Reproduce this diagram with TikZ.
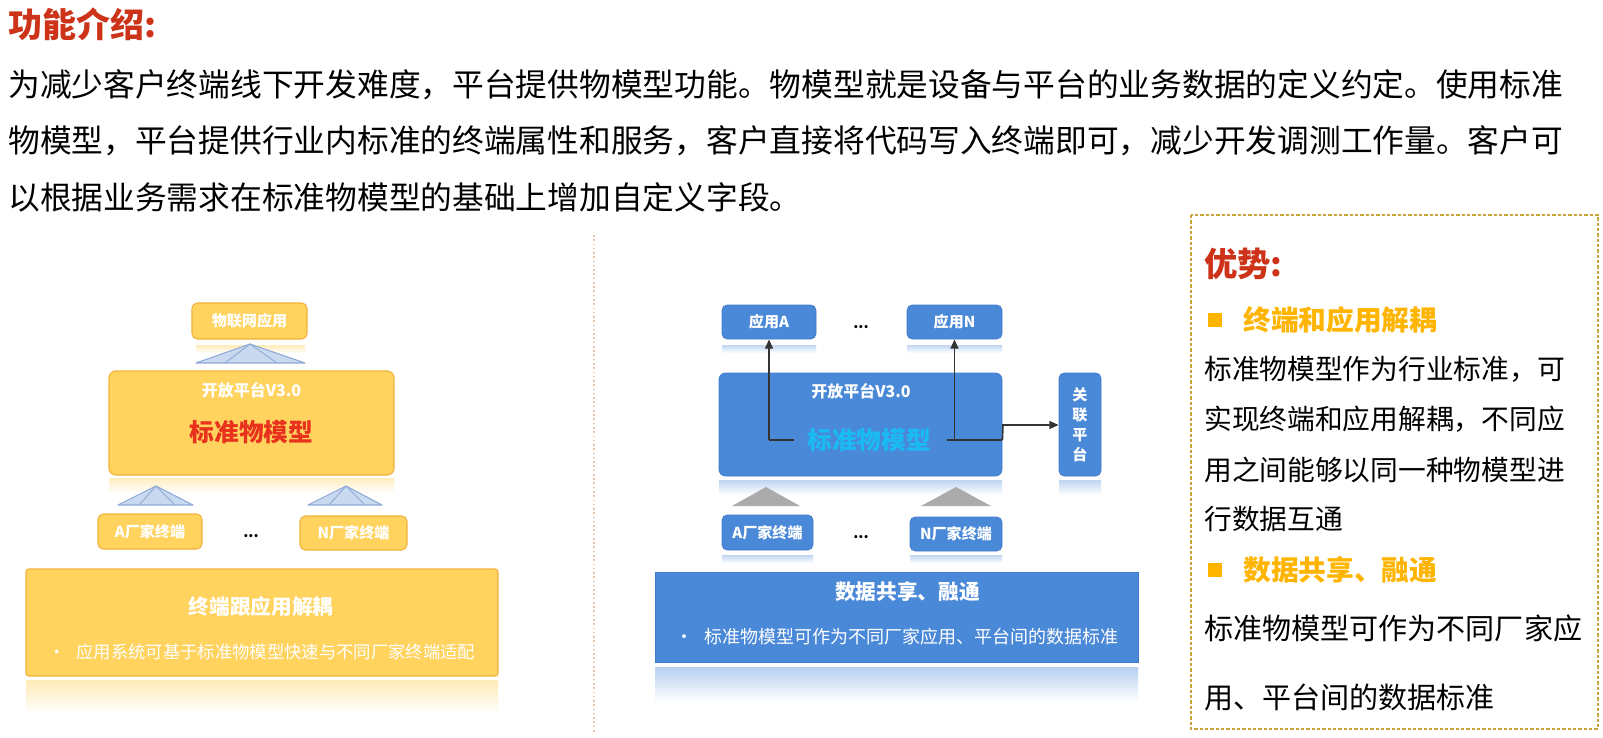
\documentclass[tikz,border=0pt]{standalone}
\usepackage{fontspec}
\setmainfont{Noto Sans CJK SC}
\usetikzlibrary{arrows.meta}
\definecolor{ttlred}{HTML}{CC3319}
\definecolor{yfill}{HTML}{FFD35E}
\definecolor{yline}{HTML}{F2B23C}
\definecolor{bfill}{HTML}{4A88D8}
\definecolor{bline}{HTML}{3F7BCB}
\definecolor{redtxt}{HTML}{E8321E}
\definecolor{cyantxt}{HTML}{1CBAF2}
\definecolor{pyrfill}{HTML}{C9DAF0}
\definecolor{pyrline}{HTML}{8FAAD6}
\definecolor{headyel}{HTML}{FFB400}
\definecolor{panelc}{HTML}{C9A43A}
\definecolor{divc}{HTML}{F2C4A6}
\definecolor{conncol}{HTML}{333333}
\begin{document}
\begin{tikzpicture}[x=0.75pt,y=-0.75pt,
  sz/.style 2 args={minimum width=#1*0.75pt, minimum height=#2*0.75pt},
  ybox/.style={draw=yline, fill=yfill, rounded corners=4pt, line width=0.8pt, inner sep=0pt, text=white, font=\bfseries\fontsize{11.3}{13}\selectfont},
  bbox/.style={draw=bline, fill=bfill, rounded corners=4pt, line width=0.6pt, inner sep=0pt, text=white, font=\bfseries\fontsize{11.3}{13}\selectfont},
  txt/.style={inner sep=0pt, anchor=west},
  lbl/.style={inner sep=0pt},
  conn/.style={draw=conncol, line width=1.2pt},
  arr/.style={conn, -{Triangle[length=7pt,width=6pt]}},
  pyr/.style={fill=pyrfill, draw=pyrline, line width=0.8pt, line join=round},
  gtri/.style={fill=black!33},
  body/.style={txt, font=\fontsize{23.8}{28}\selectfont},
  pbody/.style={txt, font=\fontsize{20.8}{25}\selectfont},
  pbody2/.style={txt, font=\fontsize{21.8}{26}\selectfont},
  phead/.style={txt, font=\bfseries\fontsize{20.8}{25}\selectfont, text=headyel},
  sq/.style={fill=headyel, minimum size=10pt, inner sep=0pt}
]
\fill[white] (0,0) rectangle (1603,738);
\useasboundingbox (0,0) rectangle (1603,738);

% ---------- top text ----------
\node[txt, font=\bfseries\fontsize{25.5}{30}\selectfont, text=ttlred] (title) at (8,24) {功能介绍:};
\node[body] (l1) at (8,85) {为减少客户终端线下开发难度，平台提供物模型功能。物模型就是设备与平台的业务数据的定义约定。使用标准};
\node[body] (l2) at (8,141) {物模型，平台提供行业内标准的终端属性和服务，客户直接将代码写入终端即可，减少开发调测工作量。客户可};
\node[body] (l3) at (8,197) {以根据业务需求在标准物模型的基础上增加自定义字段。};

% ---------- left diagram ----------
\shade[top color=yfill!45, bottom color=white] (196,345) rectangle (305,353);
\shade[top color=yfill!40, bottom color=white] (109,478) rectangle (394,493);
\shade[top color=yfill!45, bottom color=white] (26,680) rectangle (498,714);

\node[ybox, sz={115}{36}] (lapp) at (249.5,321) {物联网应用};
\node[ybox, sz={285}{104}, rounded corners=5pt] (lplat) at (251.5,423) {};
\node[lbl, text=white, font=\bfseries\fontsize{12}{14}\selectfont] (lplatt) at (251.5,390) {开放平台V3.0};
\node[lbl, text=redtxt, font=\bfseries\fontsize{18.5}{22}\selectfont] (lmodel) at (251.5,432) {标准物模型};

% pyramids
\fill[pyr] (196,363) -- (250,344) -- (305,363) -- cycle;
\draw[pyrline, line width=0.7pt] (250,344) -- (225,363) (250,344) -- (277,363);
\fill[pyr] (118,505) -- (156,486) -- (193,505) -- cycle;
\draw[pyrline, line width=0.7pt] (156,486) -- (139,505) (156,486) -- (175,505);
\fill[pyr] (308,505) -- (346,486) -- (382,505) -- cycle;
\draw[pyrline, line width=0.7pt] (346,486) -- (329,505) (346,486) -- (365,505);

\node[ybox, sz={104}{35}] (la) at (150,531.5) {A厂家终端};
\node[ybox, sz={107}{34}] (ln) at (353.5,533) {N厂家终端};
\node[lbl, font=\bfseries\fontsize{11}{13}\selectfont] (ldots) at (251,536) {...};

\node[ybox, sz={472}{107}, rounded corners=2pt] (lbot) at (262,622.5) {};
\node[lbl, text=white, font=\bfseries\fontsize{15.5}{18}\selectfont] (lbott) at (261,607) {终端跟应用解耦};
\node[lbl, text=white, font=\fontsize{13}{16}\selectfont] (lbotb) at (262,652) {•\hspace{8pt}应用系统可基于标准物模型快速与不同厂家终端适配};

% ---------- divider ----------
\draw[divc, line width=0.9pt, dash pattern=on 1.2pt off 2pt] (594,235) -- (594,733);

% ---------- right diagram ----------
\shade[top color=bfill!35, bottom color=white] (722,345) rectangle (816,353);
\shade[top color=bfill!35, bottom color=white] (907,345) rectangle (1002,353);
\shade[top color=bfill!35, bottom color=white] (719,480) rectangle (1002,495);
\shade[top color=bfill!35, bottom color=white] (1059,480) rectangle (1101,495);
\shade[top color=bfill!35, bottom color=white] (722,555) rectangle (813,563);
\shade[top color=bfill!35, bottom color=white] (910,555) rectangle (1002,563);
\shade[top color=bfill!40, bottom color=white] (655,667) rectangle (1138,702);

\node[bbox, sz={94}{34}] (rappa) at (769,322) {应用A};
\node[bbox, sz={95}{34}] (rappn) at (954.5,322) {应用N};
\node[lbl, font=\bfseries\fontsize{11}{13}\selectfont] (rdots1) at (861,327) {...};

\node[bbox, sz={283}{103}, rounded corners=5pt] (rplat) at (860.5,424.5) {};
\node[lbl, text=white, font=\bfseries\fontsize{12}{14}\selectfont] (rplatt) at (861,391) {开放平台V3.0};
\node[lbl, text=cyantxt, font=\bfseries\fontsize{18.5}{22}\selectfont] (rmodel) at (869,440) {标准物模型};

\node[bbox, sz={42}{103}, align=center, font=\bfseries\fontsize{11.3}{15}\selectfont] (rrel) at (1080,424.5) {关\\联\\平\\台};

% connectors
\coordinate (jA) at (rappa.south |- rmodel.center);
\coordinate (jN) at (rappn.south |- rmodel.center);
\coordinate (jE) at (rplat.east |- rmodel.center);
\coordinate (jK) at (1003,425);
\draw[conn] ([xshift=-10pt]rmodel.west) -- (jA);
\draw[arr] (jA) -- (rappa.south);
\draw[conn] ([xshift=12pt]rmodel.east) -- (jE);
\draw[arr] (jN) -- (rappn.south);
\draw[arr] (jE) -- (jK) -- (rrel.west |- jK);

% gray triangles
\fill[gtri] (732,506) -- (766,487) -- (800,506) -- cycle;
\fill[gtri] (921,506) -- (956,487) -- (991,506) -- cycle;

\node[bbox, sz={91}{35}] (ra) at (767.5,532.5) {A厂家终端};
\node[bbox, sz={92}{34}] (rn) at (956,534) {N厂家终端};
\node[lbl, font=\bfseries\fontsize{11}{13}\selectfont] (rdots2) at (861,537) {...};

\node[bbox, sz={483}{90}, rounded corners=0pt] (rbot) at (896.5,617) {};
\node[lbl, text=white, font=\bfseries\fontsize{15.5}{18}\selectfont] (rbott) at (907.5,592) {数据共享、融通};
\node[lbl, text=white, font=\fontsize{13.5}{16}\selectfont] (rbotb) at (897,637) {•\hspace{8pt}标准物模型可作为不同厂家应用、平台间的数据标准};

% ---------- right panel ----------
\draw[panelc, line width=1pt, dash pattern=on 2.5pt off 1.5pt] (1191,215) rectangle (1598,729);
\node[txt, font=\bfseries\fontsize{25}{30}\selectfont, text=ttlred] (adv) at (1204,264) {优势:};
\node[sq] (sq1) at (1215,320) {};
\node[phead] (h1) at (1243,320) {终端和应用解耦};
\node[pbody] (p1) at (1204,369) {标准物模型作为行业标准，可};
\node[pbody] (p2) at (1204,419) {实现终端和应用解耦，不同应};
\node[pbody] (p3) at (1204,470) {用之间能够以同一种物模型进};
\node[pbody] (p4) at (1204,519) {行数据互通};
\node[sq] (sq2) at (1215,570) {};
\node[phead] (h2) at (1243,570) {数据共享、融通};
\node[pbody2] (p5) at (1204,628) {标准物模型可作为不同厂家应};
\node[pbody2] (p6) at (1204,697) {用、平台间的数据标准};
\end{tikzpicture}
\end{document}
